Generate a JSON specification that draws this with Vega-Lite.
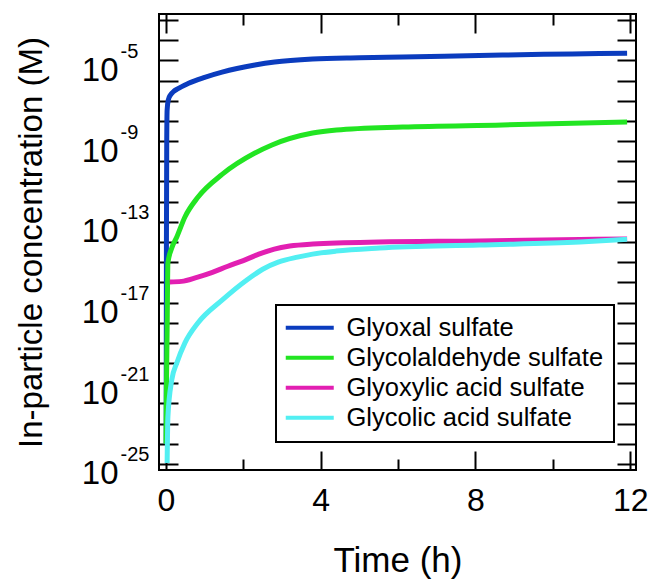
{
  "$schema": "https://vega.github.io/schema/vega-lite/v6.json",
  "width": 477,
  "height": 456,
  "autosize": "none",
  "padding": {"left": 159, "top": 14, "right": 16, "bottom": 114},
  "background": "white",
  "config": {
    "view": {"stroke": "black", "strokeWidth": 2},
    "axis": {"grid": false, "domain": false, "tickColor": "black", "tickWidth": 2, "labelColor": "black", "titleColor": "black", "labelFont": "Liberation Sans", "titleFont": "Liberation Sans", "titleFontWeight": "normal"},
    "legend": {"strokeColor": "black", "strokeWidth": 2, "fillColor": "white", "padding": 10, "labelFont": "Liberation Sans", "labelFontSize": 25.5, "labelColor": "black", "rowPadding": 3, "labelLimit": 0}
  },
  "data": {"values": [
    {"t": 0.005, "c": 1e-24, "s": "Glyoxal sulfate"},
    {"t": 0.012, "c": 1e-14, "s": "Glyoxal sulfate"},
    {"t": 0.02, "c": 1e-9, "s": "Glyoxal sulfate"},
    {"t": 0.03, "c": 3.4e-8, "s": "Glyoxal sulfate"},
    {"t": 0.06, "c": 1.1e-7, "s": "Glyoxal sulfate"},
    {"t": 0.12, "c": 2.0e-7, "s": "Glyoxal sulfate"},
    {"t": 0.19, "c": 2.8e-7, "s": "Glyoxal sulfate"},
    {"t": 0.3, "c": 3.9e-7, "s": "Glyoxal sulfate"},
    {"t": 0.57, "c": 7.2e-7, "s": "Glyoxal sulfate"},
    {"t": 1.0, "c": 1.45e-6, "s": "Glyoxal sulfate"},
    {"t": 1.45, "c": 2.63e-6, "s": "Glyoxal sulfate"},
    {"t": 2.3, "c": 5.89e-6, "s": "Glyoxal sulfate"},
    {"t": 2.81, "c": 8.32e-6, "s": "Glyoxal sulfate"},
    {"t": 3.79, "c": 1.17e-5, "s": "Glyoxal sulfate"},
    {"t": 5.0, "c": 1.35e-5, "s": "Glyoxal sulfate"},
    {"t": 6.12, "c": 1.48e-5, "s": "Glyoxal sulfate"},
    {"t": 8.7, "c": 1.86e-5, "s": "Glyoxal sulfate"},
    {"t": 10.5, "c": 2.09e-5, "s": "Glyoxal sulfate"},
    {"t": 11.92, "c": 2.29e-5, "s": "Glyoxal sulfate"},
    {"t": 0.002, "c": 1e-24, "s": "Glycolaldehyde sulfate"},
    {"t": 0.01, "c": 2.0e-22, "s": "Glycolaldehyde sulfate"},
    {"t": 0.03, "c": 4.37e-19, "s": "Glycolaldehyde sulfate"},
    {"t": 0.05, "c": 9.12e-16, "s": "Glycolaldehyde sulfate"},
    {"t": 0.15, "c": 5.01e-15, "s": "Glycolaldehyde sulfate"},
    {"t": 0.28, "c": 1.78e-14, "s": "Glycolaldehyde sulfate"},
    {"t": 0.49, "c": 1.74e-13, "s": "Glycolaldehyde sulfate"},
    {"t": 0.83, "c": 1.70e-12, "s": "Glycolaldehyde sulfate"},
    {"t": 1.45, "c": 2.24e-11, "s": "Glycolaldehyde sulfate"},
    {"t": 2.3, "c": 2.57e-10, "s": "Glycolaldehyde sulfate"},
    {"t": 2.74, "c": 6.46e-10, "s": "Glycolaldehyde sulfate"},
    {"t": 3.79, "c": 2.51e-9, "s": "Glycolaldehyde sulfate"},
    {"t": 4.41, "c": 3.55e-9, "s": "Glycolaldehyde sulfate"},
    {"t": 6.12, "c": 5.01e-9, "s": "Glycolaldehyde sulfate"},
    {"t": 8.7, "c": 6.31e-9, "s": "Glycolaldehyde sulfate"},
    {"t": 11.92, "c": 8.91e-9, "s": "Glycolaldehyde sulfate"},
    {"t": 0.1, "c": 1.05e-16, "s": "Glyoxylic acid sulfate"},
    {"t": 0.4, "c": 1.12e-16, "s": "Glyoxylic acid sulfate"},
    {"t": 0.8, "c": 1.78e-16, "s": "Glyoxylic acid sulfate"},
    {"t": 1.2, "c": 3.16e-16, "s": "Glyoxylic acid sulfate"},
    {"t": 1.6, "c": 6.31e-16, "s": "Glyoxylic acid sulfate"},
    {"t": 2.0, "c": 1.2e-15, "s": "Glyoxylic acid sulfate"},
    {"t": 2.4, "c": 2.51e-15, "s": "Glyoxylic acid sulfate"},
    {"t": 2.8, "c": 4.47e-15, "s": "Glyoxylic acid sulfate"},
    {"t": 3.2, "c": 6.31e-15, "s": "Glyoxylic acid sulfate"},
    {"t": 3.8, "c": 7.94e-15, "s": "Glyoxylic acid sulfate"},
    {"t": 5.5, "c": 1.0e-14, "s": "Glyoxylic acid sulfate"},
    {"t": 8.1, "c": 1.12e-14, "s": "Glyoxylic acid sulfate"},
    {"t": 10.7, "c": 1.35e-14, "s": "Glyoxylic acid sulfate"},
    {"t": 11.92, "c": 1.41e-14, "s": "Glyoxylic acid sulfate"},
    {"t": 0.03, "c": 1.12e-25, "s": "Glycolic acid sulfate"},
    {"t": 0.05, "c": 2.14e-23, "s": "Glycolic acid sulfate"},
    {"t": 0.15, "c": 1.45e-21, "s": "Glycolic acid sulfate"},
    {"t": 0.28, "c": 1e-20, "s": "Glycolic acid sulfate"},
    {"t": 0.49, "c": 1e-19, "s": "Glycolic acid sulfate"},
    {"t": 0.83, "c": 1e-18, "s": "Glycolic acid sulfate"},
    {"t": 1.45, "c": 1.32e-17, "s": "Glycolic acid sulfate"},
    {"t": 2.09, "c": 1.32e-16, "s": "Glycolic acid sulfate"},
    {"t": 2.5, "c": 4.47e-16, "s": "Glycolic acid sulfate"},
    {"t": 2.9, "c": 1.0e-15, "s": "Glycolic acid sulfate"},
    {"t": 3.4, "c": 1.78e-15, "s": "Glycolic acid sulfate"},
    {"t": 3.79, "c": 2.51e-15, "s": "Glycolic acid sulfate"},
    {"t": 4.4, "c": 3.55e-15, "s": "Glycolic acid sulfate"},
    {"t": 5.52, "c": 5.01e-15, "s": "Glycolic acid sulfate"},
    {"t": 8.1, "c": 7.08e-15, "s": "Glycolic acid sulfate"},
    {"t": 10.7, "c": 1.0e-14, "s": "Glycolic acid sulfate"},
    {"t": 11.92, "c": 1.35e-14, "s": "Glycolic acid sulfate"}
  ]},
  "layer": [
    {
      "mark": {"type": "line", "strokeWidth": 5, "interpolate": "monotone"},
      "encoding": {
        "x": {"field": "t", "type": "quantitative", "scale": {"domain": [-0.18, 12.15], "nice": false, "zero": false},
          "axis": {"orient": "bottom", "values": [0, 4, 8, 12], "tickSize": -19, "labelFontSize": 32, "labelPadding": 34, "title": "Time (h)", "titleFontSize": 35, "titlePadding": 27}},
        "y": {"field": "c", "type": "quantitative", "scale": {"type": "log", "domain": [5.01e-26, 2.0e-3], "nice": false},
          "axis": {"orient": "left", "values": [1e-3, 1e-4, 1e-5, 1e-6, 1e-7, 1e-8, 1e-9, 1e-10, 1e-11, 1e-12, 1e-13, 1e-14, 1e-15, 1e-16, 1e-17, 1e-18, 1e-19, 1e-20, 1e-21, 1e-22, 1e-23, 1e-24, 1e-25],
            "tickSize": -19, "labelFontSize": 33, "labelPadding": 60, "labelOffset": 10,
            "labelExpr": "(round(log(datum.value)/LN10)+5)%4==0 && datum.value<1e-4 ? '10' : ''",
            "title": "In-particle concentration (M)", "titleFontSize": 33, "titlePadding": 33}},
        "color": {"field": "s", "type": "nominal", "sort": ["Glyoxal sulfate", "Glycolaldehyde sulfate", "Glyoxylic acid sulfate", "Glycolic acid sulfate"],
          "scale": {"domain": ["Glyoxal sulfate", "Glycolaldehyde sulfate", "Glyoxylic acid sulfate", "Glycolic acid sulfate"], "range": ["#0b3cbe", "#22e522", "#e21fb2", "#52eff2"]},
          "legend": {"title": null, "orient": "none", "legendX": 117, "legendY": 291, "symbolType": "M-4,0H4", "symbolSize": 144, "symbolStrokeWidth": 4, "symbolOffset": 11, "labelOffset": 24}}
      }
    },
    {
      "mark": {"type": "line", "opacity": 0},
      "encoding": {
        "x": {"field": "t", "type": "quantitative", "scale": {"domain": [-0.18, 12.15], "nice": false, "zero": false},
          "axis": {"orient": "top", "values": [0, 4, 8, 12], "tickSize": -19, "labels": false, "title": null}},
        "y": {"field": "c", "type": "quantitative", "scale": {"type": "log", "domain": [5.01e-26, 2.0e-3], "nice": false},
          "axis": {"orient": "right", "values": [1e-3, 1e-4, 1e-5, 1e-6, 1e-7, 1e-8, 1e-9, 1e-10, 1e-11, 1e-12, 1e-13, 1e-14, 1e-15, 1e-16, 1e-17, 1e-18, 1e-19, 1e-20, 1e-21, 1e-22, 1e-23, 1e-24, 1e-25], "tickSize": -19, "labels": false, "title": null}},
        "detail": {"field": "s"}
      }
    },
    {
      "mark": {"type": "line", "opacity": 0},
      "encoding": {
        "x": {"field": "t", "type": "quantitative", "scale": {"domain": [-0.18, 12.15], "nice": false, "zero": false},
          "axis": {"orient": "bottom", "values": [2, 6, 10], "tickSize": -11, "labels": false, "title": null}},
        "y": {"field": "c", "type": "quantitative", "scale": {"type": "log", "domain": [5.01e-26, 2.0e-3], "nice": false},
          "axis": {"orient": "left", "values": [1e-5, 1e-9, 1e-13, 1e-17, 1e-21, 1e-25], "ticks": false, "tickSize": 0, "labelAlign": "left", "labelPadding": 39, "labelFontSize": 20, "labelOffset": -9,
            "labelExpr": "'' + round(log(datum.value)/LN10)", "title": null}},
        "detail": {"field": "s"}
      }
    },
    {
      "mark": {"type": "line", "opacity": 0},
      "encoding": {
        "x": {"field": "t", "type": "quantitative", "scale": {"domain": [-0.18, 12.15], "nice": false, "zero": false},
          "axis": {"orient": "top", "values": [2, 6, 10], "tickSize": -11, "labels": false, "title": null}},
        "y": {"field": "c", "type": "quantitative", "scale": {"type": "log", "domain": [5.01e-26, 2.0e-3], "nice": false}, "axis": null},
        "detail": {"field": "s"}
      }
    }
  ],
  "resolve": {"axis": {"x": "independent", "y": "independent"}}
}
